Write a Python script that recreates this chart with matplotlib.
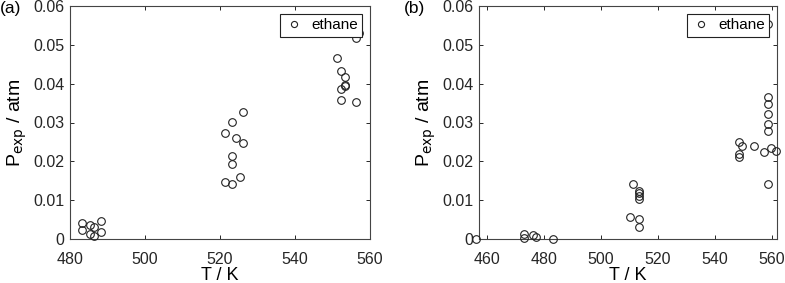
import matplotlib
matplotlib.use("Agg")
import matplotlib.pyplot as plt
from matplotlib.ticker import FuncFormatter

plt.rcParams['font.family'] = ['Liberation Sans', 'DejaVu Sans']

# Panel (a) data
T_a = [483.3, 483.3, 485.2, 486.3, 485.2, 486.3, 488.3, 488.3,
       521.2, 523.3, 524.2, 526.2, 526.2, 523.2, 523.2, 521.2, 523.2, 525.2,
       551.2, 552.2, 553.2, 553.2, 553.4, 552.2, 552.2, 556.2, 556.2, 557.1]
P_a = [0.0040, 0.0022, 0.0036, 0.0032, 0.0013, 0.0009, 0.0046, 0.0017,
       0.0272, 0.0301, 0.0261, 0.0247, 0.0326, 0.0215, 0.0192, 0.0146, 0.0141, 0.0160,
       0.0465, 0.0432, 0.0417, 0.0396, 0.0394, 0.0386, 0.0359, 0.0353, 0.0518, 0.0530]

# Panel (b) data
T_b = [456.3, 473.1, 473.1, 476.3, 477.2, 483.3,
       511.3, 510.2, 513.3, 513.3, 513.3, 513.3, 513.3, 513.3,
       548.4, 548.4, 548.4, 549.4, 553.5, 557.3, 558.5, 558.5, 558.5, 558.5,
       558.5, 558.5, 559.5, 561.5, 558.5]
P_b = [0.0000, 0.0014, 0.0002, 0.0010, 0.0005, 0.0000,
       0.0141, 0.0056, 0.0123, 0.0118, 0.0111, 0.0102, 0.0051, 0.0030,
       0.0249, 0.0218, 0.0211, 0.0240, 0.0239, 0.0224, 0.0365, 0.0348, 0.0321, 0.0296,
       0.0279, 0.0141, 0.0234, 0.0226, 0.0553]

xticks_a = [480, 500, 520, 540, 560]
xticks_b = [460, 480, 500, 520, 540, 560]
yticks = [0, 0.01, 0.02, 0.03, 0.04, 0.05, 0.06]
series_name = "ethane"

W, H = 7.85, 2.83
fig = plt.figure(figsize=(W, H), dpi=100)

def px_axes(l, r, t, b):
    return fig.add_axes([l / 785, 1 - b / 283, (r - l) / 785, (b - t) / 283])

ax1 = px_axes(70, 370, 6, 239)
ax2 = px_axes(479, 777, 6, 239)

fmt = FuncFormatter(lambda v, p: ('%g' % round(v, 4)))

for ax, T, P, xt, xlim in [
        (ax1, T_a, P_a, xticks_a, (480, 560)),
        (ax2, T_b, P_b, xticks_b, (457.3, 561.7))]:
    ax.plot(T, P, 'o', mfc='none', mec='#222222', ms=5.5, mew=0.8,
            clip_on=False, label=series_name, zorder=3)
    ax.set_xlim(*xlim)
    ax.set_ylim(0, 0.06)
    ax.set_xticks(xt)
    ax.set_yticks(yticks)
    ax.yaxis.set_major_formatter(fmt)
    ax.tick_params(direction='in', length=3, width=0.7, top=True, right=True,
                   labelsize=11.5, colors='#262626')
    ax.tick_params(axis='x', pad=9.5)
    ax.tick_params(axis='y', pad=4)
    for s in ax.spines.values():
        s.set_color('#444444')
        s.set_linewidth(0.8)
    ax.set_xlabel('T / K', fontsize=13, labelpad=0)
    ax.set_ylabel(r'P$_{\mathrm{exp}}$ / atm', fontsize=14, labelpad=3)
    leg = ax.legend(loc='upper right', fontsize=11, frameon=True, fancybox=False,
                    framealpha=1, edgecolor='#222222', borderpad=0.3,
                    handletextpad=0.5, handlelength=1.2, borderaxespad=0.5,
                    markerscale=0.8)
    leg.get_frame().set_linewidth(0.8)
    leg.set_zorder(5)

fig.text(0 / 785, 1 - 9 / 283, '(a)', fontsize=12.5, va='center', ha='left')
fig.text(404 / 785, 1 - 9 / 283, '(b)', fontsize=12.5, va='center', ha='left')

fig.savefig('out.png', dpi=100)
